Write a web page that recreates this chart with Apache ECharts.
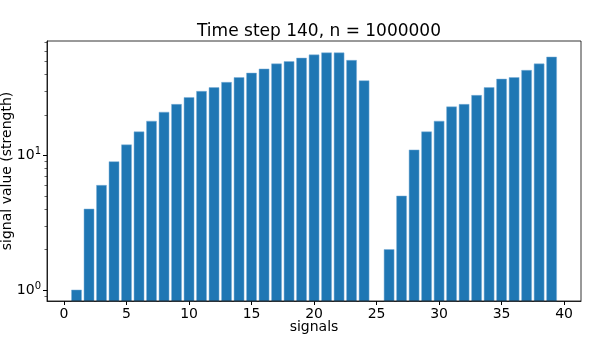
<!DOCTYPE html>
<html>
<head>
<meta charset="utf-8">
<script src="https://cdn.jsdelivr.net/npm/echarts@6/dist/echarts.min.js"></script>
<style>
html, body { margin: 0; padding: 0; background: #fff; }
#chart { width: 598px; height: 344px; }
</style>
</head>
<body>
<div id="chart"></div>
<script>
// signal index and strength at time step 140 (0 = no bar)
var signals = [];
for (var i = 0; i < 40; i++) signals.push(i);
var strength = [0, 1, 4, 6, 9, 12, 15, 18, 21, 24,
	27, 30, 32, 35, 38, 41, 44, 48, 50, 53,
	56, 58, 58, 51, 36, 0, 2, 5, 11, 15,
	18, 23, 24, 28, 32, 37, 38, 43, 48, 54];
var xTicks = [0, 5, 10, 15, 20, 25, 30, 35, 40];
var yMajor = [1, 10];
var yMinor = [0.9, 2, 3, 4, 5, 6, 7, 8, 9, 20, 30, 40, 50, 60, 70];

var font = 'DejaVu Sans';
var yMin = 0.828, yMax = 71;
var myChart = echarts.init(document.getElementById('chart'));

var barData = [];
for (var i = 0; i < signals.length; i++) {
	if (strength[i] > 0) barData.push([signals[i], strength[i]]);
}

var option = {
	animation: false,
	title: {
		text: 'Time step 140, n = 1000000',
		left: 314, top: 18,
		textAlign: 'center',
		textStyle: { fontFamily: font, fontSize: 17, fontWeight: 'normal', color: '#000' }
	},
	grid: { left: 47, right: 17, top: 41, bottom: 43, containLabel: false, outerBoundsMode: 'none' },
	xAxis: {
		type: 'value',
		min: -1.36, max: 41.35,
		name: 'signals',
		nameLocation: 'middle',
		nameGap: 19,
		nameMoveOverlap: false,
		nameTextStyle: { fontFamily: font, fontSize: 14, color: '#000', verticalAlign: 'top' },
		axisLine: { show: true, onZero: false, lineStyle: { color: '#000', width: 0.8 } },
		axisTick: { show: true, length: 4, customValues: xTicks, lineStyle: { color: '#000' } },
		axisLabel: { customValues: xTicks, fontFamily: font, fontSize: 14, color: '#000', margin: 6 },
		splitLine: { show: false }
	},
	yAxis: [{
		type: 'log',
		min: yMin, max: yMax,
		name: 'signal value (strength)',
		nameLocation: 'middle',
		nameGap: 33,
		nameMoveOverlap: false,
		nameTextStyle: { fontFamily: font, fontSize: 14, color: '#000' },
		axisLine: { show: true, onZero: false, lineStyle: { color: '#000', width: 0.8 } },
		axisTick: { show: true, length: 4, customValues: yMajor, lineStyle: { color: '#000' } },
		axisLabel: {
			customValues: yMajor,
			fontFamily: font, fontSize: 14, color: '#000', margin: 6,
			formatter: function (v) { return '10{sup|' + Math.round(Math.log10(v)) + '}'; },
			rich: { sup: { fontFamily: font, fontSize: 10, color: '#000', verticalAlign: 'top', padding: [0, 0, 8, 0] } }
		},
		splitLine: { show: false }
	}, {
		type: 'log',
		position: 'left',
		offset: 0,
		min: yMin, max: yMax,
		axisLine: { show: false, onZero: false },
		axisTick: { show: true, length: 2.5, customValues: yMinor, lineStyle: { color: '#000', width: 0.6 } },
		axisLabel: { show: false },
		splitLine: { show: false }
	}],
	series: [{
		type: 'custom',
		data: barData,
		encode: { x: 0, y: 1 },
		renderItem: function (params, api) {
			var x = api.value(0);
			var top = api.coord([x, api.value(1)]);
			var w = api.size([0.8, 0])[0];
			var bottom = params.coordSys.y + params.coordSys.height;
			return {
				type: 'rect',
				shape: { x: top[0] - w / 2, y: top[1], width: w, height: bottom - top[1] },
				style: { fill: '#1f77b4', stroke: '#7fb0d8', lineWidth: 0.5 }
			};
		}
	}]
};

myChart.setOption(option);

// top and right frame lines like the matplotlib box
myChart.setOption({
	graphic: [{
		type: 'rect',
		shape: { x: 47, y: 41, width: 534, height: 260 },
		style: { fill: 'none', stroke: '#000', lineWidth: 0.8 },
		silent: true, z: 10
	}]
});
</script>
</body>
</html>
